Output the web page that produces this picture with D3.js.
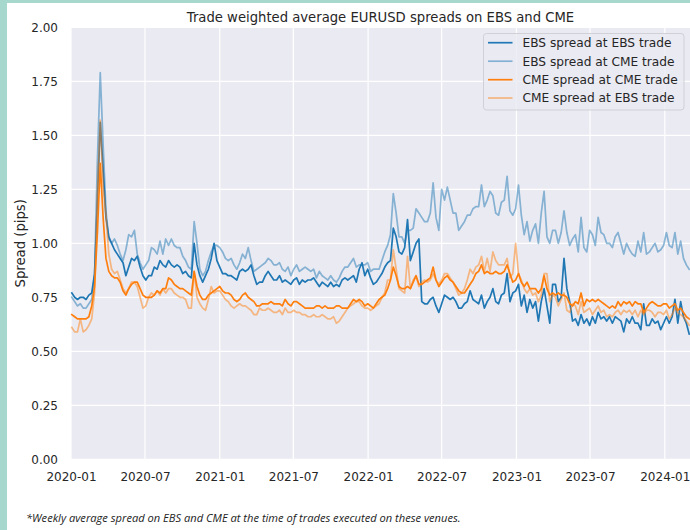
<!DOCTYPE html>
<html><head><meta charset="utf-8">
<script src="https://cdn.jsdelivr.net/npm/d3@7"></script>
<style>
body{margin:0;background:#fff;}
svg{display:block;font-family:"DejaVu Sans",sans-serif;}
</style>
</head><body>
<svg id="chart" width="690" height="530"></svg>
<script>
// ---- data (weekly, first observation 2020-01-03) ----
const firstWeek = "2020-01-03";
const seriesNames = ["EBS spread at EBS trade","EBS spread at CME trade","CME spread at CME trade","CME spread at EBS trade"];
const ebsAtEbs = [
0.77,0.75,0.74,0.75,0.75,0.74,0.76,0.77,0.86,1.20,
1.56,1.34,1.12,1.03,1.00,0.97,0.95,0.93,0.91,0.85,
0.89,0.93,0.92,0.94,0.89,0.85,0.83,0.85,0.85,0.89,
0.88,0.92,0.90,0.89,0.92,0.90,0.89,0.90,0.89,0.86,
0.87,0.85,0.84,1.00,0.90,0.85,0.82,0.85,0.88,0.93,
1.00,0.92,0.89,0.86,0.86,0.85,0.85,0.84,0.83,0.87,
0.88,0.87,0.88,0.90,0.85,0.81,0.82,0.82,0.85,0.87,
0.85,0.83,0.83,0.85,0.82,0.83,0.82,0.81,0.83,0.84,
0.81,0.83,0.82,0.83,0.83,0.84,0.82,0.80,0.82,0.81,
0.80,0.82,0.80,0.81,0.80,0.83,0.84,0.83,0.84,0.85,
0.82,0.88,0.91,0.85,0.88,0.84,0.81,0.82,0.84,0.86,
0.89,0.91,0.92,1.07,1.03,0.96,0.95,0.98,1.11,0.92,
0.96,1.00,1.02,0.73,0.72,0.72,0.74,0.75,0.71,0.68,
0.72,0.76,0.75,0.74,0.75,0.73,0.70,0.70,0.72,0.73,
0.78,0.74,0.73,0.72,0.76,0.70,0.73,0.75,0.79,0.73,
0.72,0.76,0.77,0.86,0.73,0.77,0.78,0.81,0.71,0.76,
0.68,0.74,0.70,0.73,0.64,0.73,0.79,0.71,0.63,0.81,
0.81,0.73,0.75,0.93,0.79,0.73,0.64,0.65,0.62,0.67,
0.63,0.65,0.62,0.66,0.63,0.68,0.65,0.66,0.64,0.66,
0.63,0.66,0.65,0.64,0.59,0.65,0.63,0.66,0.63,0.63,
0.60,0.72,0.62,0.62,0.65,0.63,0.64,0.60,0.63,0.66,
0.63,0.66,0.74,0.63,0.73,0.66,0.63,0.58];
const ebsAtCme = [
0.75,0.73,0.71,0.72,0.70,0.70,0.72,0.74,0.85,1.39,
1.79,1.46,1.15,1.02,1.00,1.02,0.99,0.95,0.92,0.97,
1.04,1.03,1.06,0.95,0.91,0.88,0.90,0.92,0.98,0.97,
0.95,1.01,0.95,1.02,0.99,1.02,0.99,0.98,0.98,0.94,
0.92,0.89,0.88,1.10,1.00,0.88,0.85,0.87,0.92,0.96,
0.99,0.99,0.98,0.96,0.93,0.92,0.93,0.90,0.88,0.91,
0.95,0.93,0.98,0.92,0.87,0.88,0.89,0.90,0.91,0.93,
0.92,0.90,0.90,0.91,0.88,0.87,0.89,0.85,0.88,0.90,
0.87,0.88,0.89,0.88,0.87,0.88,0.84,0.87,0.85,0.84,
0.83,0.85,0.83,0.82,0.84,0.87,0.89,0.89,0.91,0.93,
0.89,0.90,0.90,0.90,0.91,0.87,0.88,0.88,0.88,0.92,
0.96,0.99,1.04,1.23,1.14,1.03,1.03,1.00,1.06,1.06,
1.07,1.16,1.14,1.12,1.10,1.10,1.14,1.28,1.12,1.06,
1.25,1.20,1.26,1.20,1.14,1.14,1.06,1.08,1.10,1.13,
1.13,1.16,1.17,1.17,1.27,1.17,1.20,1.24,1.22,1.14,
1.13,1.19,1.20,1.31,1.15,1.13,1.16,1.27,1.13,1.04,
1.10,1.01,1.06,1.09,1.00,1.14,1.24,1.03,1.00,1.06,
1.06,1.00,1.05,1.15,1.05,0.99,1.02,1.04,0.96,1.12,
0.98,0.96,1.06,1.04,0.99,1.12,1.05,1.04,1.00,1.00,
0.98,1.03,1.05,1.00,0.95,1.00,0.97,0.95,0.94,1.01,
0.96,1.05,0.95,0.96,0.98,1.00,0.96,0.97,0.99,1.05,
0.99,0.98,1.05,0.95,1.01,0.93,0.90,0.88];
const cmeAtCme = [
0.67,0.66,0.65,0.65,0.65,0.65,0.66,0.71,0.80,1.05,
1.37,1.12,0.93,0.87,0.85,0.84,0.84,0.82,0.78,0.76,
0.79,0.81,0.82,0.82,0.79,0.76,0.75,0.75,0.75,0.76,
0.78,0.77,0.79,0.79,0.84,0.83,0.81,0.80,0.79,0.79,
0.78,0.77,0.76,0.87,0.80,0.76,0.74,0.74,0.76,0.77,
0.78,0.79,0.80,0.78,0.77,0.77,0.76,0.74,0.73,0.74,
0.76,0.77,0.75,0.74,0.73,0.71,0.71,0.72,0.72,0.72,
0.73,0.72,0.72,0.72,0.71,0.74,0.72,0.71,0.73,0.73,
0.72,0.71,0.70,0.70,0.70,0.70,0.71,0.71,0.70,0.71,
0.70,0.70,0.70,0.71,0.71,0.70,0.70,0.70,0.72,0.74,
0.73,0.74,0.73,0.71,0.72,0.71,0.70,0.72,0.74,0.75,
0.76,0.79,0.83,0.89,0.85,0.80,0.79,0.79,0.80,0.79,
0.82,0.85,0.81,0.81,0.82,0.83,0.84,0.89,0.83,0.80,
0.82,0.84,0.85,0.83,0.82,0.80,0.78,0.77,0.77,0.79,
0.81,0.83,0.86,0.87,0.90,0.86,0.87,0.86,0.86,0.87,
0.86,0.86,0.87,0.90,0.86,0.82,0.83,0.86,0.82,0.80,
0.82,0.79,0.79,0.79,0.77,0.79,0.85,0.79,0.76,0.77,
0.76,0.77,0.76,0.76,0.75,0.72,0.71,0.73,0.72,0.77,
0.71,0.74,0.73,0.74,0.73,0.74,0.73,0.72,0.71,0.70,
0.71,0.70,0.73,0.71,0.73,0.72,0.73,0.71,0.73,0.72,
0.72,0.68,0.70,0.72,0.73,0.72,0.71,0.71,0.72,0.72,
0.70,0.71,0.72,0.69,0.70,0.68,0.66,0.65];
const cmeAtEbs = [
0.61,0.59,0.59,0.65,0.59,0.60,0.62,0.65,0.77,1.23,
1.57,1.26,1.13,0.95,0.88,0.86,0.87,0.83,0.79,0.77,
0.79,0.82,0.82,0.80,0.75,0.70,0.71,0.75,0.77,0.76,
0.78,0.76,0.79,0.77,0.79,0.79,0.77,0.76,0.75,0.75,
0.74,0.70,0.70,0.87,0.75,0.72,0.70,0.69,0.74,0.80,
0.77,0.78,0.78,0.76,0.74,0.73,0.71,0.70,0.71,0.72,
0.71,0.71,0.70,0.69,0.67,0.67,0.70,0.69,0.69,0.70,
0.69,0.68,0.68,0.69,0.67,0.70,0.68,0.68,0.69,0.68,
0.68,0.67,0.67,0.66,0.66,0.67,0.66,0.66,0.67,0.66,
0.65,0.65,0.66,0.63,0.64,0.66,0.68,0.70,0.71,0.72,
0.73,0.73,0.71,0.70,0.70,0.69,0.70,0.71,0.72,0.75,
0.77,0.83,0.83,0.97,0.88,0.79,0.78,0.77,0.94,0.79,
0.83,0.85,0.80,0.82,0.83,0.82,0.83,0.86,0.83,0.81,
0.83,0.86,0.86,0.84,0.82,0.79,0.76,0.77,0.79,0.83,
0.88,0.86,0.89,0.90,0.94,0.87,0.93,0.87,0.96,0.92,
0.90,0.90,0.90,0.93,0.84,0.86,1.00,0.86,0.83,0.79,
0.77,0.79,0.76,0.77,0.73,0.76,0.86,0.86,0.73,0.76,
0.75,0.71,0.74,0.77,0.69,0.68,0.72,0.71,0.67,0.73,
0.68,0.69,0.70,0.67,0.69,0.71,0.68,0.69,0.66,0.67,
0.66,0.68,0.69,0.67,0.69,0.68,0.69,0.67,0.69,0.66,
0.69,0.67,0.69,0.69,0.68,0.66,0.68,0.68,0.67,0.69,
0.65,0.67,0.70,0.68,0.67,0.66,0.64,0.62];
const yTickValues = [0,0.25,0.5,0.75,1.0,1.25,1.5,1.75,2.0];
const xTickLabels = ["2020-01","2020-07","2021-01","2021-07","2022-01","2022-07","2023-01","2023-07","2024-01"];
const titleText = "Trade weighted average EURUSD spreads on EBS and CME";
const yLabelText = "Spread (pips)";
const footnoteText = "*Weekly average spread on EBS and CME at the time of trades executed on these venues.";

// ---- layout ----
const svg = d3.select("#chart");
const L = 71, R = 690, T = 27.3, B = 459.3;
const parseM = d3.timeParse("%Y-%m");
const parseD = d3.timeParse("%Y-%m-%d");
const start = parseD(firstWeek);
const dates = ebsAtEbs.map((_, i) => d3.timeDay.offset(start, 7 * i));

const x = d3.scaleTime().domain([parseD("2020-01-01"), parseD("2024-03-03")]).range([L, R]);
const y = d3.scaleLinear().domain([0, 2]).range([B, T]);

// frame decoration
svg.append("rect").attr("x",0).attr("y",0).attr("width",690).attr("height",530).attr("fill","#ffffff");
svg.append("rect").attr("x",0).attr("y",0).attr("width",690).attr("height",3).attr("fill","#a6d8ce");
svg.append("rect").attr("x",0).attr("y",0).attr("width",7).attr("height",530).attr("fill","#a6d8ce");

// plot background
svg.append("rect").attr("x",L).attr("y",T).attr("width",R-L).attr("height",B-T).attr("fill","#eaeaf2");

const xTickDates = xTickLabels.map(parseM);

// grid
svg.append("g").selectAll("line").data(yTickValues).join("line")
  .attr("x1",L).attr("x2",R).attr("y1",d=>y(d)).attr("y2",d=>y(d))
  .attr("stroke","#ffffff").attr("stroke-width",1.2);
svg.append("g").selectAll("line").data(xTickDates).join("line")
  .attr("y1",T).attr("y2",B).attr("x1",d=>x(d)).attr("x2",d=>x(d))
  .attr("stroke","#ffffff").attr("stroke-width",1.2);

// axes
const yAxis = d3.axisLeft(y).tickValues(yTickValues).tickFormat(d3.format(".2f")).tickSize(0).tickPadding(13);
const gy = svg.append("g").attr("transform",`translate(${L},0)`).call(yAxis);
const xAxis = d3.axisBottom(x).tickValues(xTickDates).tickFormat(d3.timeFormat("%Y-%m")).tickSize(0).tickPadding(12.8);
const gx = svg.append("g").attr("transform",`translate(0,${B})`).call(xAxis);
[gx, gy].forEach(g => {
  g.select(".domain").remove();
  g.selectAll("text").attr("fill","#262626").style("font-size","12px").style("font-family","DejaVu Sans, sans-serif");
});

// lines
const colors = ["#1f77b4","#1f77b4","#ff7f0e","#ff7f0e"];
const opac = [1,0.5,1,0.5];
const allSeries = [ebsAtEbs, ebsAtCme, cmeAtCme, cmeAtEbs];
const line = d3.line().x((d,i)=>x(dates[i])).y(d=>y(d));
allSeries.forEach((s, k) => {
  svg.append("path").datum(s).attr("d", line)
    .attr("fill","none").attr("stroke",colors[k]).attr("stroke-opacity",opac[k])
    .attr("stroke-width",1.7).attr("stroke-linejoin","round").attr("stroke-linecap","square");
});

// title and labels
svg.append("text").attr("x",(L+R)/2).attr("y",21.5).attr("text-anchor","middle")
  .attr("fill","#262626").style("font-size","13.2px").text(titleText);
svg.append("text").attr("transform",`translate(25,${(T+B)/2}) rotate(-90)`).attr("text-anchor","middle")
  .attr("fill","#262626").style("font-size","13.2px").text(yLabelText);

// legend
const lg = svg.append("g");
lg.append("rect").attr("x",483.5).attr("y",33.5).attr("width",200.5).attr("height",76.5).attr("rx",3)
  .attr("fill","#eaeaf2").attr("fill-opacity",0.8).attr("stroke","#d0d0d6").attr("stroke-width",1);
const legY = [42.7, 61.2, 79.7, 98.0];
seriesNames.forEach((n, k) => {
  lg.append("line").attr("x1",488).attr("x2",512.5).attr("y1",legY[k]).attr("y2",legY[k])
    .attr("stroke",colors[k]).attr("stroke-opacity",opac[k]).attr("stroke-width",1.7);
  lg.append("text").attr("x",522.5).attr("y",legY[k]).attr("dy","0.36em")
    .attr("fill","#262626").style("font-size","12.2px").text(n);
});

// footnote
const fn = svg.append("text").attr("x",26).attr("y",521.5).attr("fill","#222")
  .style("font-family","'Open Sans', sans-serif").style("font-style","italic").style("font-size","9.5px")
  .text(footnoteText);
const len = fn.node().getComputedTextLength();
fn.style("font-size", (9.5 * 435 / len).toFixed(2) + "px");
</script>
</body></html>
